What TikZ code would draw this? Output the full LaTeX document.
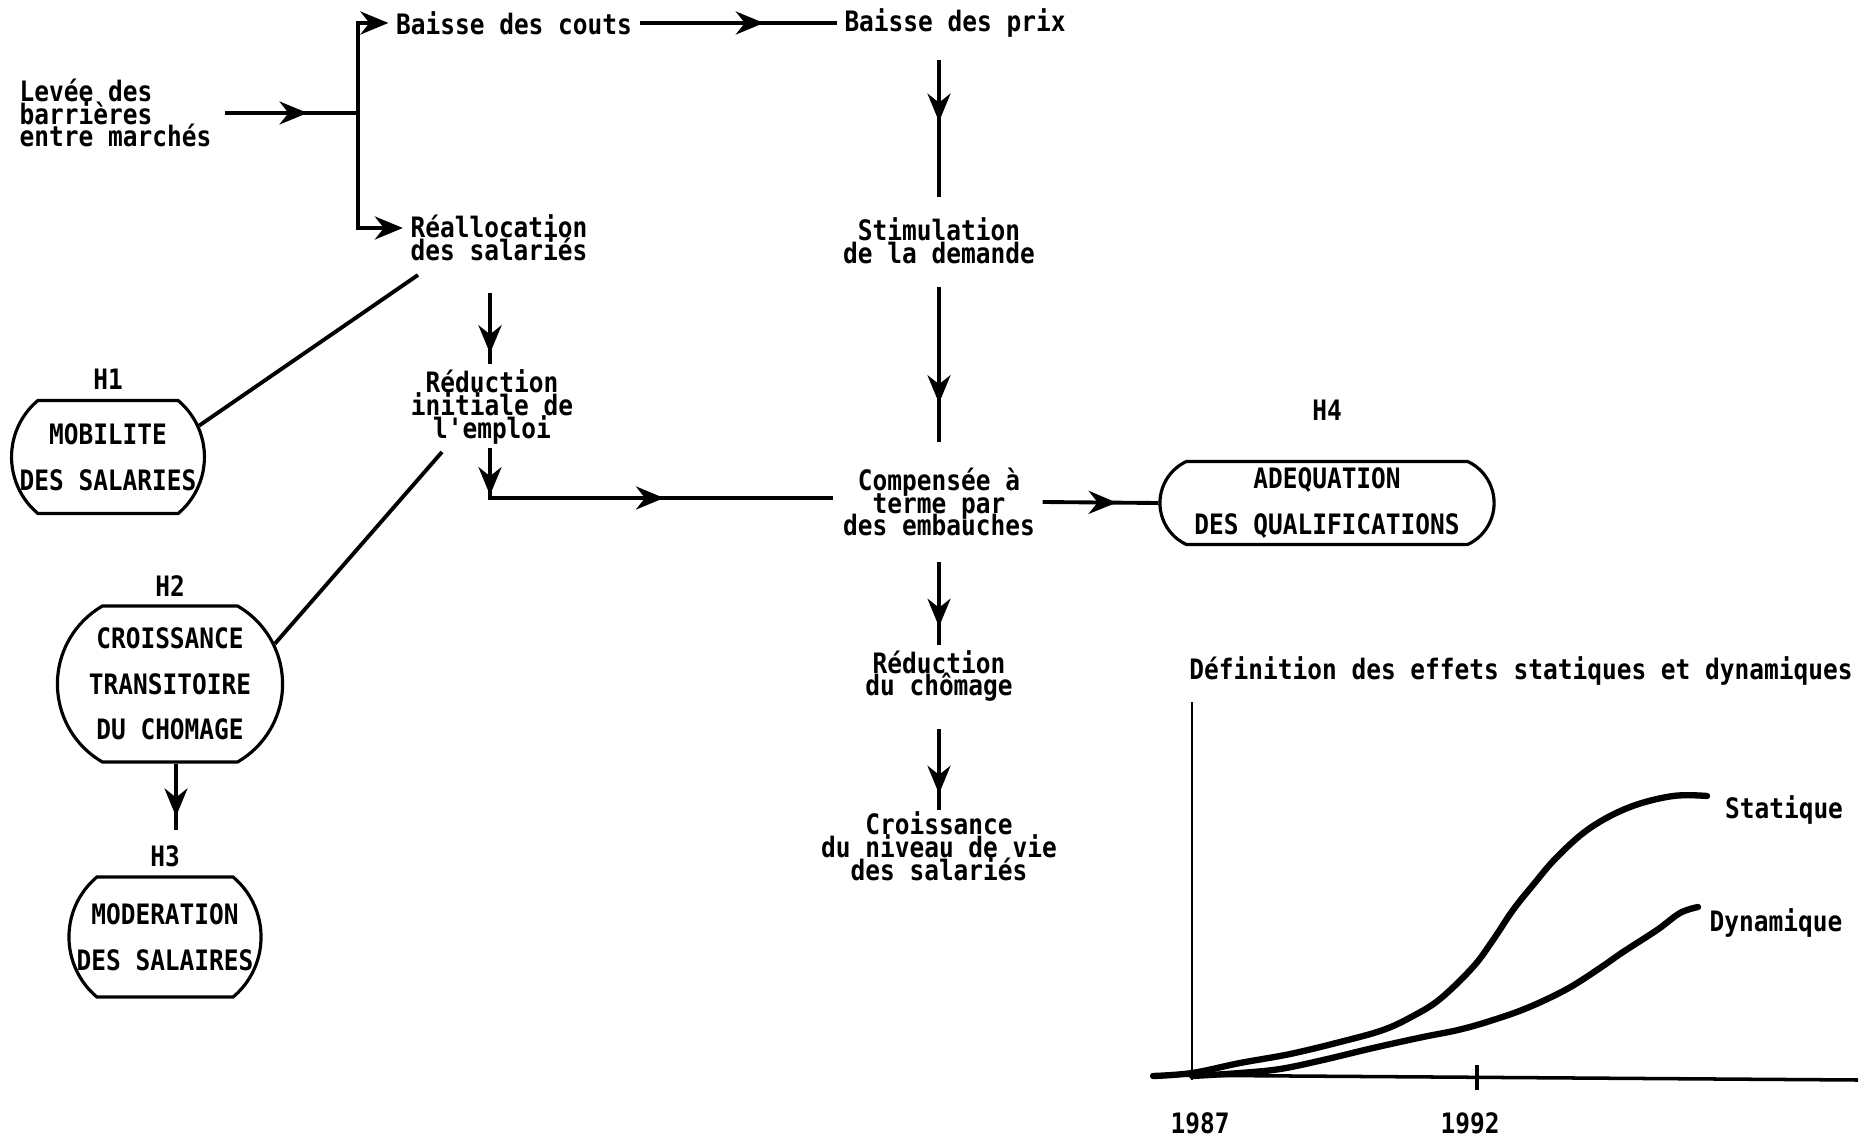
\documentclass[tikz,border=0pt]{standalone}
\usepackage{fontspec}
\setmainfont{DejaVu Sans}
\newfontfamily\typefont[FakeStretch=0.87]{DejaVu Sans Mono}
\usetikzlibrary{arrows.meta,positioning,calc,shapes.misc,decorations.markings}
\lineskiplimit=-20pt

\begin{document}
\begin{tikzpicture}[
  x=0.01cm, y=-0.01cm,
  font=\typefont\bfseries\fontsize{8}{6.5}\selectfont,
  txt/.style={align=center, inner sep=2pt},
  hyp/.style={draw, line width=0.9pt, rounded rectangle, rounded rectangle arc length=#1,
    align=center, inner sep=0pt, font=\typefont\bfseries\fontsize{8}{13}\selectfont},
  hlabel/.style={font=\typefont\bfseries\fontsize{8}{8}\selectfont, inner sep=1pt},
  line/.style={line width=1.1pt},
  tip/.style={line, -{Stealth[length=2.8mm,width=2.3mm,inset=0.9mm]}},
  flow/.style={line, postaction={decorate}, decoration={markings,
    mark=at position #1 with {\arrow{Stealth[length=2.8mm,width=2.3mm,inset=0.9mm]}}}},
  twoflow/.style 2 args={line, postaction={decorate}, decoration={markings,
    mark=at position #1 with {\arrow{Stealth[length=2.8mm,width=2.3mm,inset=0.9mm]}},
    mark=at position #2 with {\arrow{Stealth[length=2.8mm,width=2.3mm,inset=0.9mm]}}}},
  curve/.style={line width=1.8pt, line cap=round, smooth, tension=0.6},
  plotlabel/.style={inner sep=1pt}
]
\useasboundingbox (0,0) rectangle (1874,1137);

% chain of effects
\node[txt, align=left, anchor=west] (levee) at (12,113) {Levée des\\barrières\\entre marchés};
\coordinate (fork) at (358,113);
\node[txt] (couts) at (514,23) {Baisse des couts};
\node[txt] (prix) at (955,23) {Baisse des prix};
\node[txt] (realloc) at (499,238) {Réallocation\\des salariés};
\node[txt] (stim) at (939,241) {Stimulation\\de la demande};
\node[txt] (redinit) at (492,407) {Réduction\\initiale de\\l'emploi};
\node[txt] (comp) at (939,502) {Compensée à\\terme par\\des embauches};
\node[txt] (redchom) at (939,676) {Réduction\\du chômage};
\node[txt] (croiss) at (939,846) {Croissance\\du niveau de vie\\des salariés};

% hypotheses
\node[hyp=100, minimum width=1.89cm, minimum height=1.13cm] (h1) at (108,457) {MOBILITE\\DES SALARIES};
\node[hyp=120, minimum width=2.25cm, minimum height=1.56cm] (h2) at (170,684) {CROISSANCE\\TRANSITOIRE\\DU CHOMAGE};
\node[hyp=100, minimum width=1.92cm, minimum height=1.20cm] (h3) at (165,937) {MODERATION\\DES SALAIRES};
\node[hyp=130, minimum width=3.34cm, minimum height=0.83cm] (h4) at (1327,503) {ADEQUATION\\DES QUALIFICATIONS};
\node[hlabel, above=0.5mm of h1] (h1lab) {H1};
\node[hlabel, above=0.4mm of h2] (h2lab) {H2};
\node[hlabel, above=0.4mm of h3] (h3lab) {H3};
\node[hlabel, above=3.5mm of h4] (h4lab) {H4};

\draw[flow=0.62] ($(levee.east |- fork)+(6,0)$) -- (fork);
\draw[tip] (fork) |- (couts.west);
\draw[tip] (fork) |- ([yshift=1mm]realloc.west);
\draw[flow=0.63] (couts.east) -- (prix.west);
\draw[flow=0.45] ($(prix)+(-16,37)$) -- ($(stim)+(0,-44)$);
\draw[flow=0.75] ($(stim)+(0,46)$) -- ($(comp)+(0,-60)$);
\draw[flow=0.78] ($(comp)+(0,60)$) -- ($(redchom)+(0,-31)$);
\draw[flow=0.8] ($(redchom)+(0,53)$) -- ($(croiss)+(0,-36)$);
\draw[flow=0.85] ($(realloc)+(-9,55)$) -- ($(redinit)+(-2,-43)$);
\draw[twoflow={0.12}{0.57}] ($(redinit)+(-2,41)$) |- ($(comp)+(-106,-4)$);
\draw[flow=0.64] (comp.east) -- (h4.west);
\draw[flow=0.8] ($(h2.south)+(6,0)$) -- ($(h2.south |- h3lab.north)+(6,-12)$);
\draw[line] ($(realloc)+(-81,37)$) -- (h1.19);
\draw[line] ($(redinit)+(-50,45)$) -- (h2.21);

% static and dynamic effects
\node[plotlabel] (title) at (1521,671) {Définition des effets statiques et dynamiques};
\draw[line width=0.8pt] (1192,702) -- (1192,1080);
\draw[line width=1pt] (1151,1075) -- (1858,1080);
\draw[line width=1.1pt] (1477,1065) -- (1477,1090);
\node[plotlabel] (y1987) at (1200,1123) {1987};
\node[plotlabel] (y1992) at (1470,1123) {1992};
\draw[curve] plot coordinates {(1153,1076) (1192,1073) (1240,1063) (1290,1054) (1340,1042)
  (1383,1030) (1413,1016) (1440,999) (1473,967) (1493,940) (1513,910) (1533,885)
  (1557,857) (1590,828) (1630,807) (1673,796) (1707,796)};
\draw[curve] plot coordinates {(1192,1076) (1240,1073) (1280,1069) (1323,1060) (1373,1048)
  (1423,1037) (1458,1030) (1490,1021) (1527,1008) (1567,989) (1600,968) (1623,952)
  (1657,930) (1680,913) (1698,907)};
\node[plotlabel] (stat) at (1784,810) {Statique};
\node[plotlabel] (dyn) at (1776,923) {Dynamique};

\end{tikzpicture}
\end{document}
